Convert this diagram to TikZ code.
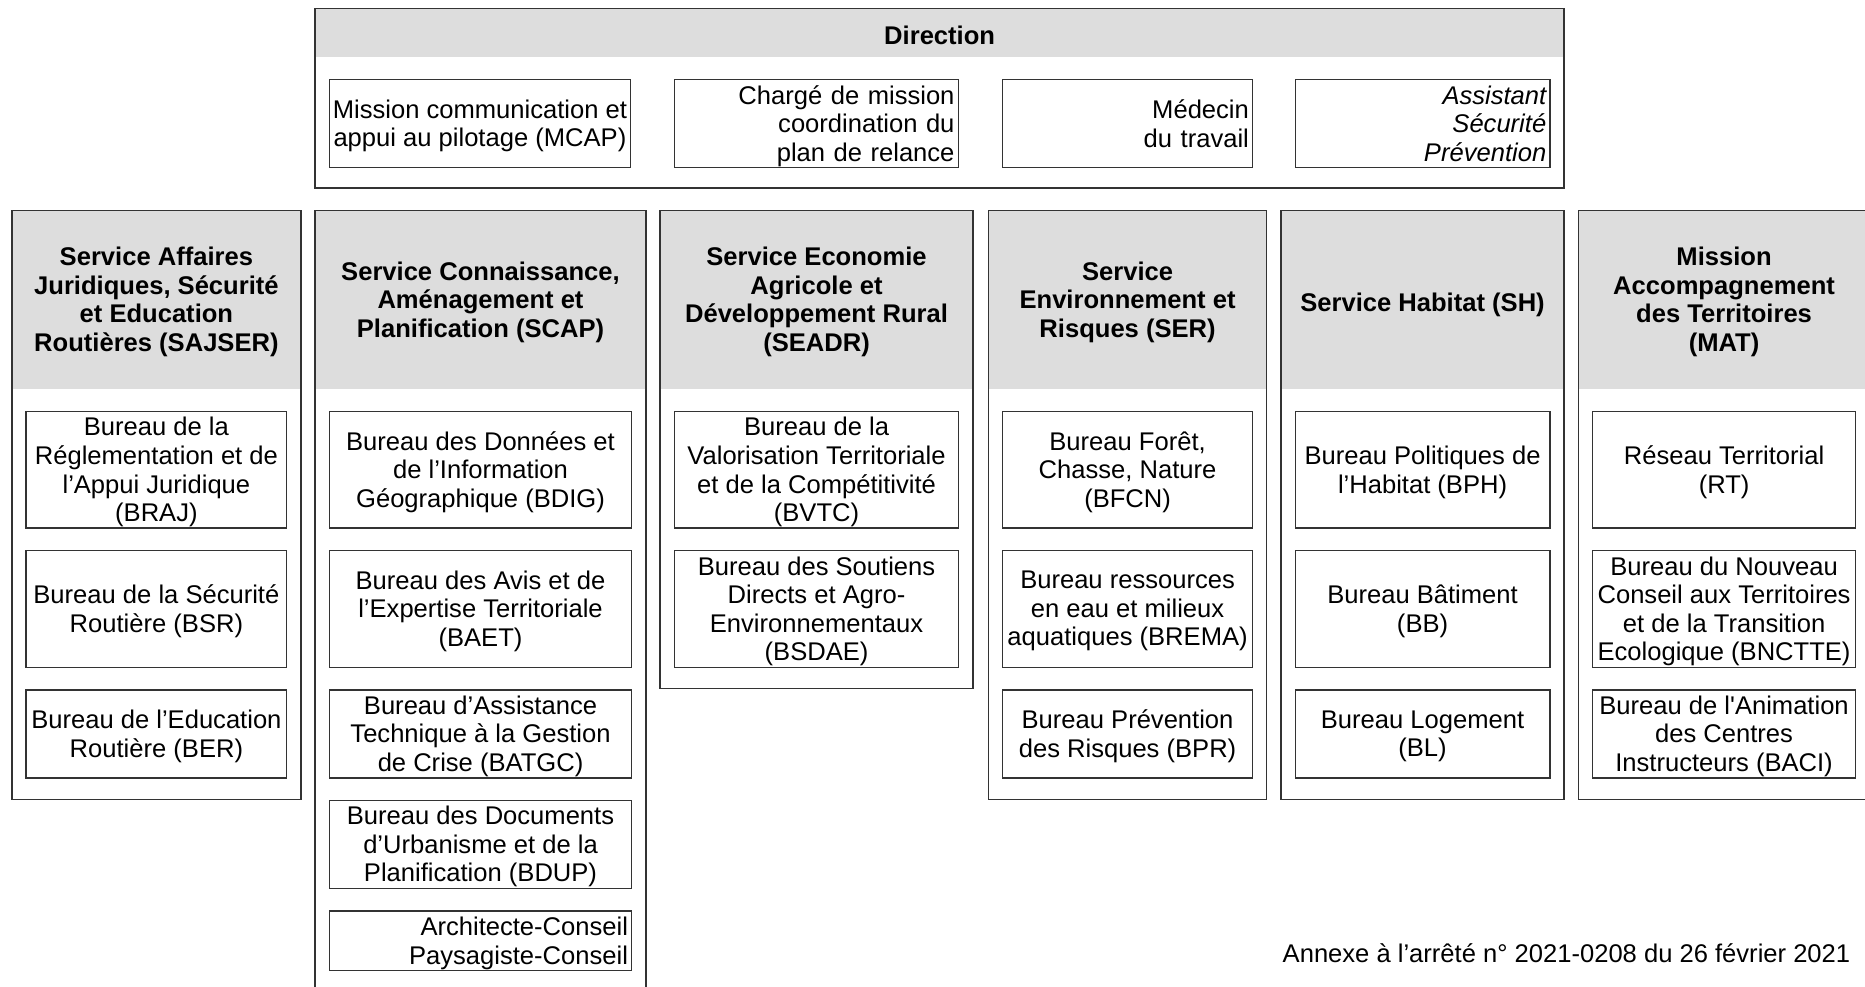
\documentclass[tikz,border=0pt]{standalone}
\usepackage{fontspec}
\setmainfont{Liberation Sans}[Ligatures=TeXOff]
\definecolor{hdrgray}{HTML}{DDDDDD}
\definecolor{linec}{HTML}{333333}
\newcommand\topstrut{\rule{0pt}{10.5pt}}
\newcommand\botstrut{\rule[-2.7pt]{0pt}{2.7pt}}
\tikzset{
  every node/.style={font=\fontsize{10.75}{12}\selectfont},
  sz/.style 2 args={minimum width=#1*0.5pt, minimum height=#2*0.5pt},
  frame/.style={draw=linec, line width=0.6pt, inner sep=0pt},
  struts/.style={execute at begin node=\topstrut, execute at end node=\botstrut},
  txt/.style={inner sep=0pt, align=center, struts, yshift=-1.2pt},
  rtxt/.style={inner sep=0pt, struts, align=right, text width=#1},
  btxt/.style={txt, font=\fontsize{10.75}{12}\selectfont\bfseries},
  hdr/.style={fill=hdrgray, inner sep=0pt},
  bx/.style={draw=linec, line width=0.6pt, fill=white, inner sep=0pt},
}
\begin{document}
\begin{tikzpicture}[x=0.5pt,y=-0.5pt]
\useasboundingbox (0,0) rectangle (1568,829);
% Direction
\node[hdr, sz={1050}{41}, label={[btxt]center:Direction}] (dirh) at (790,27.5) {};
\node[frame, sz={1050}{151}] (dir) at (790,82.5) {};
\node[bx, sz={253}{74}, label={[txt]center:{Mission communication et\\appui au pilotage (MCAP)}}] (mcap) at (403.5,104) {};
\node[bx, sz={239}{74}, label={[rtxt=116pt]center:{Chargé de mission\\coordination du\\plan de relance}}] (cm) at (686.5,104) {};
\node[bx, sz={210}{74}, label={[rtxt=102pt]center:{Médecin\\du travail}}] (med) at (948,104) {};
\node[bx, sz={214}{74}, label={[rtxt=104pt, font=\fontsize{10.75}{12}\selectfont\itshape]center:{Assistant\\Sécurité\\Prévention}}] (asp) at (1196,104) {};
% Column headers
\node[hdr, sz={243}{150}, label={[btxt]center:{Service Affaires\\Juridiques, Sécurité\\et Education\\Routières (SAJSER)}}] (h1) at (131.5,252) {};
\node[hdr, sz={278}{150}, label={[btxt]center:{Service Connaissance,\\Aménagement et\\Planification (SCAP)}}] (h2) at (404,252) {};
\node[hdr, sz={263}{150}, label={[btxt]center:{Service Economie\\Agricole et\\Développement Rural\\(SEADR)}}] (h3) at (686.5,252) {};
\node[hdr, sz={234}{150}, label={[btxt]center:{Service\\Environnement et\\Risques (SER)}}] (h4) at (948,252) {};
\node[hdr, sz={238}{150}, label={[btxt]center:{Service Habitat (SH)}}] (h5) at (1196,252) {};
\node[hdr, sz={245}{150}, label={[btxt]center:{Mission\\Accompagnement\\des Territoires\\(MAT)}}] (h6) at (1449.5,252) {};
% Column frames
\node[frame, sz={243}{495}] (c1) at (131.5,424.5) {};
\node[frame, sz={278}{663}] (c2) at (404,508.5) {};
\node[frame, sz={263}{402}] (c3) at (686.5,378) {};
\node[frame, sz={234}{495}] (c4) at (948,424.5) {};
\node[frame, sz={238}{495}] (c5) at (1196,424.5) {};
\node[frame, sz={245}{495}] (c6) at (1449.5,424.5) {};
% SAJSER
\node[bx, sz={219}{98}, label={[txt]center:{Bureau de la\\Réglementation et de\\l’Appui Juridique\\(BRAJ)}}] (braj) at (131.5,395) {};
\node[bx, sz={219}{98}, label={[txt]center:{Bureau de la Sécurité\\Routière (BSR)}}] (bsr) at (131.5,512) {};
\node[bx, sz={219}{74}, label={[txt]center:{Bureau de l’Education\\Routière (BER)}}] (ber) at (131.5,617) {};
% SCAP
\node[bx, sz={254}{98}, label={[txt]center:{Bureau des Données et\\de l’Information\\Géographique (BDIG)}}] (bdig) at (404,395) {};
\node[bx, sz={254}{98}, label={[txt]center:{Bureau des Avis et de\\l’Expertise Territoriale\\(BAET)}}] (baet) at (404,512) {};
\node[bx, sz={254}{74}, label={[txt]center:{Bureau d’Assistance\\Technique à la Gestion\\de Crise (BATGC)}}] (batgc) at (404,617) {};
\node[bx, sz={254}{74}, label={[txt]center:{Bureau des Documents\\d’Urbanisme et de la\\Planification (BDUP)}}] (bdup) at (404,710) {};
\node[bx, sz={254}{50}, label={[rtxt=124pt]center:{Architecte-Conseil\\Paysagiste-Conseil}}] (acpc) at (404,791) {};
% SEADR
\node[bx, sz={239}{98}, label={[txt]center:{Bureau de la\\Valorisation Territoriale\\et de la Compétitivité\\(BVTC)}}] (bvtc) at (686.5,395) {};
\node[bx, sz={239}{98}, label={[txt]center:{Bureau des Soutiens\\Directs et Agro-\\Environnementaux\\(BSDAE)}}] (bsdae) at (686.5,512) {};
% SER
\node[bx, sz={210}{98}, label={[txt]center:{Bureau Forêt,\\Chasse, Nature\\(BFCN)}}] (bfcn) at (948,395) {};
\node[bx, sz={210}{98}, label={[txt]center:{Bureau ressources\\en eau et milieux\\aquatiques (BREMA)}}] (brema) at (948,512) {};
\node[bx, sz={210}{74}, label={[txt]center:{Bureau Prévention\\des Risques (BPR)}}] (bpr) at (948,617) {};
% SH
\node[bx, sz={214}{98}, label={[txt]center:{Bureau Politiques de\\l’Habitat (BPH)}}] (bph) at (1196,395) {};
\node[bx, sz={214}{98}, label={[txt]center:{Bureau Bâtiment\\(BB)}}] (bb) at (1196,512) {};
\node[bx, sz={214}{74}, label={[txt]center:{Bureau Logement\\(BL)}}] (bl) at (1196,617) {};
% MAT
\node[bx, sz={221}{98}, label={[txt]center:{Réseau Territorial\\(RT)}}] (rt) at (1449.5,395) {};
\node[bx, sz={221}{98}, label={[txt]center:{Bureau du Nouveau\\Conseil aux Territoires\\et de la Transition\\Ecologique (BNCTTE)}}] (bnctte) at (1449.5,512) {};
\node[bx, sz={221}{74}, label={[txt]center:{Bureau de l'Animation\\des Centres\\Instructeurs (BACI)}}] (baci) at (1449.5,617) {};
% Annex
\node[anchor=east, inner sep=0pt] (annex) at (1556,801) {Annexe à l’arrêté n° 2021-0208 du 26 février 2021};
\end{tikzpicture}
\end{document}
